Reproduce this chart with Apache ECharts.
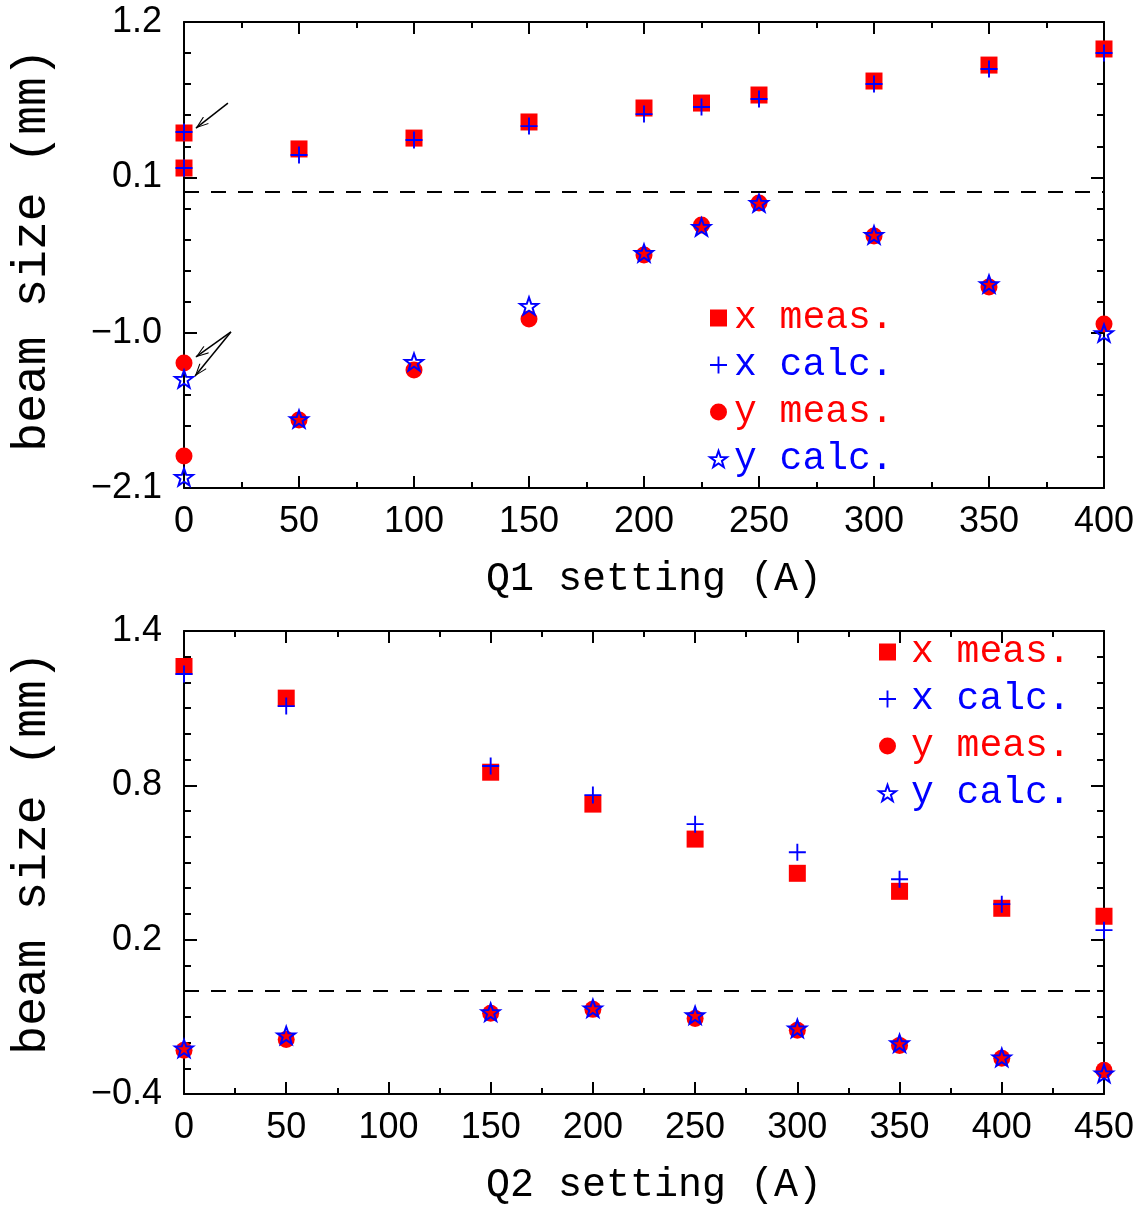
<!DOCTYPE html>
<html>
<head>
<meta charset="utf-8">
<script src="https://cdn.jsdelivr.net/npm/echarts@6/dist/echarts.min.js"></script>
<style>html,body{margin:0;padding:0;background:#fff}#c{width:1142px;height:1210px}</style>
</head>
<body>
<div id="c"></div>
<script>
// ---------- data ----------
const q1Settings = [0, 0, 50, 100, 150, 200, 225, 250, 300, 350, 400];
const xMeasQ1 = [0.414, 0.166, 0.301, 0.378, 0.492, 0.591, 0.626, 0.683, 0.782, 0.895, 1.009];
const xCalcQ1 = [0.421, 0.166, 0.258, 0.364, 0.463, 0.548, 0.598, 0.655, 0.761, 0.867, 0.980];
const yMeasQ1 = [-1.215, -1.874, -1.619, -1.265, -0.903, -0.450, -0.238, -0.082, -0.316, -0.677, -0.939];
const yCalcQ1 = [-1.328, -2.022, -1.612, -1.208, -0.811, -0.436, -0.252, -0.082, -0.308, -0.656, -1.003];

const q2Settings = [0, 50, 150, 200, 250, 300, 350, 400, 450];
const xMeasQ2 = [1.262, 1.139, 0.851, 0.727, 0.591, 0.458, 0.388, 0.322, 0.291];
const xCalcQ2 = [1.233, 1.108, 0.875, 0.762, 0.649, 0.540, 0.435, 0.338, 0.237];
const yMeasQ2 = [-0.230, -0.188, -0.086, -0.071, -0.106, -0.152, -0.211, -0.261, -0.308];
const yCalcQ2 = [-0.223, -0.172, -0.082, -0.067, -0.094, -0.145, -0.203, -0.258, -0.320];

const seriesNames = ['x meas.', 'x calc.', 'y meas.', 'y calc.'];
const xTitles = ['Q1 setting (A)', 'Q2 setting (A)'];
const yTitle = 'beam size (mm)';
// annotation arrows in the Q1 panel: [tailX, tailY, tipX, tipY]
const arrowsQ1 = [[19.1, 0.626, 5.2, 0.449], [20.4, -0.995, 5.2, -1.172], [20.4, -0.995, 4.8, -1.307]];

// ---------- styling ----------
const RED = '#ff0000', BLUE = '#0000ff';
const MONO = '"Liberation Mono", "Courier New", Cousine, FreeMono, "Nimbus Mono PS", Courier, "DejaVu Sans Mono", monospace';
const SANS = '"Liberation Sans", Arial, sans-serif';
const PLUS = 'path://M-1,-9L1,-9L1,-1L9,-1L9,1L1,1L1,9L-1,9L-1,1L-9,1L-9,-1L-1,-1Z';
const STAR = 'path://M0,-10L2.35,-3.24L9.51,-3.09L3.80,1.24L5.88,8.09L0,4L-5.88,8.09L-3.80,1.24L-9.51,-3.09L-2.35,-3.24Z';
const ARROW = 'path://M5,0L5.01,0L5,0.01Z M5,10L10,20L9,20.6L5,12.4L1,20.6L0,20Z';

function pairs(xs, ys) { return xs.map((x, i) => [x, ys[i]]); }
function fmt(v) { return (v < 0 ? '\u2212' : '') + Math.abs(v).toFixed(1); }

const grids = [
  { left: 182, top: 22, width: 922, height: 466 },
  { left: 182, top: 631, width: 922, height: 463 }
];
const axisRanges = [
  { xmax: 400, ymin: -2.1, ymax: 1.2, yint: 1.1, ysplit: 5 },
  { xmax: 450, ymin: -0.4, ymax: 1.4, yint: 0.6, ysplit: 6 }
];

const axisLine = { show: true, onZero: false, lineStyle: { color: '#000', width: 2 } };
const xAxes = [], yAxes = [];
axisRanges.forEach((r, g) => {
  ['bottom', 'top'].forEach((pos, k) => {
    xAxes.push({
      type: 'value', gridIndex: g, position: pos, min: 0, max: r.xmax, interval: 50,
      axisLine: axisLine,
      axisTick: { show: true, inside: true, length: 12, lineStyle: { color: '#000', width: 2 } },
      minorTick: { show: true, splitNumber: 2, length: 6, lineStyle: { color: '#000', width: 2 } },
      splitLine: { show: false }, minorSplitLine: { show: false },
      axisLabel: { show: k === 0, fontFamily: SANS, fontSize: 36, color: '#000', margin: 16 },
      name: k === 0 ? xTitles[g] : '', nameLocation: 'middle', nameGap: 71,
      nameTextStyle: { fontFamily: MONO, fontSize: 40, color: '#000', padding: [0, 0, 0, 20] }
    });
  });
  ['left', 'right'].forEach((pos, k) => {
    yAxes.push({
      type: 'value', gridIndex: g, position: pos, min: r.ymin, max: r.ymax, interval: r.yint,
      axisLine: axisLine,
      axisTick: { show: true, inside: true, length: 13, lineStyle: { color: '#000', width: 2 } },
      minorTick: { show: true, splitNumber: r.ysplit, length: 7, lineStyle: { color: '#000', width: 2 } },
      splitLine: { show: false }, minorSplitLine: { show: false },
      axisLabel: { show: k === 0, fontFamily: SANS, fontSize: 36, color: '#000', margin: 22, formatter: fmt },
      name: k === 0 ? yTitle : '', nameLocation: 'middle', nameGap: 128,
      nameTextStyle: { fontFamily: MONO, fontSize: 48, color: '#000', padding: [0, 0, 0, g === 0 ? 10 : 19] }
    });
  });
});

const styles = [
  { symbol: 'rect', symbolSize: 17, itemStyle: { color: RED, opacity: 1 } },
  { symbol: PLUS, symbolSize: 17, itemStyle: { color: BLUE, opacity: 1 } },
  { symbol: 'circle', symbolSize: 17, itemStyle: { color: RED, opacity: 1 } },
  { symbol: STAR, symbolSize: 18, symbolKeepAspect: true, itemStyle: { color: 'rgba(0,0,0,0)', borderColor: BLUE, borderWidth: 2, opacity: 1 } }
];
const panelData = [
  [pairs(q1Settings, xMeasQ1), pairs(q1Settings, xCalcQ1), pairs(q1Settings, yMeasQ1), pairs(q1Settings, yCalcQ1)],
  [pairs(q2Settings, xMeasQ2), pairs(q2Settings, xCalcQ2), pairs(q2Settings, yMeasQ2), pairs(q2Settings, yCalcQ2)]
];

const series = [];
panelData.forEach((sets, g) => {
  sets.forEach((d, i) => {
    const s = Object.assign({
      type: 'scatter', name: seriesNames[i], xAxisIndex: g * 2, yAxisIndex: g * 2, data: d
    }, JSON.parse(JSON.stringify(styles[i])));
    if (i === 0) {
      s.markLine = {
        silent: true, symbol: 'none', label: { show: false },
        lineStyle: { color: '#000', width: 2, type: [15, 12] },
        data: [{ yAxis: 0 }]
      };
    }
    if (g === 0 && i === 1) {
      s.markLine = {
        silent: true, symbol: ['none', ARROW], symbolSize: [9, 26], label: { show: false },
        lineStyle: { color: '#000', width: 1.5, type: 'solid' },
        data: arrowsQ1.map(a => [{ coord: [a[0], a[1]] }, { coord: [a[2], a[3]] }])
      };
    }
    series.push(s);
  });
});

const legendColors = [RED, BLUE, RED, BLUE];
const legendIcons = ['rect', PLUS, 'circle', STAR];
function makeLegend(left, top, pad) {
  return {
    orient: 'vertical', left: left, top: top, padding: 0, itemWidth: 17, itemHeight: 17, itemGap: 9,
    selectedMode: false,
    textStyle: { fontFamily: MONO, fontSize: 38, padding: [0, 0, 0, pad] },
    data: seriesNames.map((n, i) => ({
      name: n, icon: legendIcons[i],
      textStyle: { color: legendColors[i] },
      itemStyle: i === 3 ? { color: 'rgba(0,0,0,0)', borderColor: BLUE, borderWidth: 2 } : { color: legendColors[i], borderWidth: 0, opacity: 1 }
    }))
  };
}

const chart = echarts.init(document.getElementById('c'), null, { renderer: 'canvas' });
chart.setOption({
  animation: false,
  backgroundColor: '#fff',
  grid: grids,
  xAxis: xAxes,
  yAxis: yAxes,
  legend: [makeLegend(709, 299, 2), makeLegend(878, 633, 10)],
  series: series
});
</script>
</body>
</html>
